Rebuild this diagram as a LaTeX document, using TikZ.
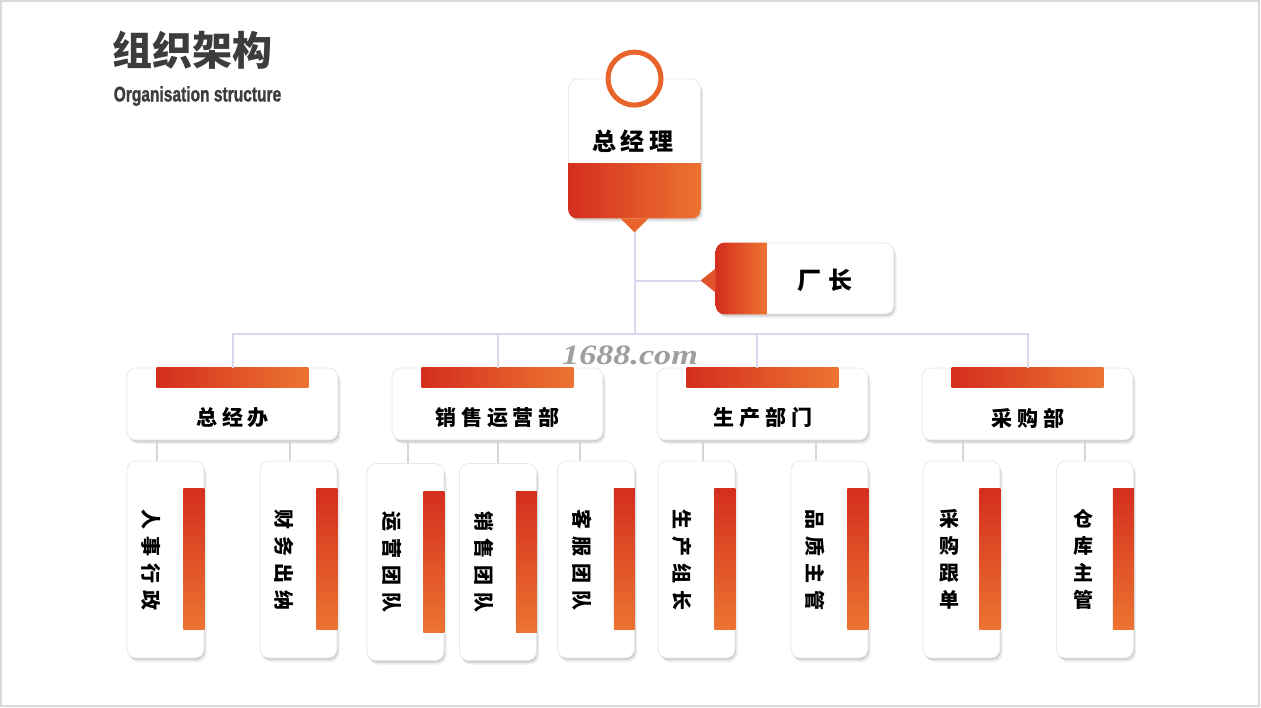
\documentclass[tikz,border=0pt]{standalone}
\usepackage{fontspec}
\setmainfont{Liberation Sans}
\newfontfamily\cjk{Noto Sans CJK SC}
\newfontfamily\subfont{Liberation Sans}[BoldFeatures={FakeBold=1.5}]
\newfontfamily\wmfont{Liberation Serif}
\usetikzlibrary{shadows}
\definecolor{cred}{HTML}{D42E1E}
\definecolor{corange}{HTML}{EC7431}
\definecolor{cring}{HTML}{E8642A}
\definecolor{ctitle}{HTML}{3C3C3C}
\definecolor{clink}{HTML}{DCD7EE}
\definecolor{csub}{HTML}{D6D6D6}
\newcommand\gap{\hspace{7pt}}
\newcommand\dgap{\hspace{5pt}}
\begin{document}
\begin{tikzpicture}[x=1pt,y=-1pt,
    card/.style={fill=white,draw=black!9,line width=0.8pt,rounded corners=9pt,inner sep=0pt,
      drop shadow={shadow xshift=2.5pt,shadow yshift=-4pt,opacity=.07,fill=black},
      drop shadow={shadow xshift=1pt,shadow yshift=-2pt,opacity=.13,fill=black}},
    link/.style={draw=clink,line width=2pt},
    sublink/.style={draw=csub,line width=1.5pt},
    label/.style={font=\cjk\bfseries\fontsize{#1}{#1}\selectfont,text=black,inner sep=0pt},
    label/.default=21]
  \useasboundingbox (0,0) rectangle (1261,707);
  \draw[black!15,line width=1.5pt] (1,1) rectangle (1259,706);

  \node[font=\cjk\bfseries\fontsize{40}{40}\selectfont,text=ctitle] (title) at (192,50) {组织架构};
  \node[font=\subfont\bfseries\fontsize{21}{21}\selectfont,text=ctitle] (subtitle) at (197.5,96)
    {\scalebox{0.74}[1]{Organisation structure}};

  \coordinate (bus) at (634.5,334);

  \node[card,minimum width=132pt,minimum height=139pt] (gm) at (634.5,148.5) {};
  \begin{scope}
    \clip[rounded corners=9pt] (gm.north west) rectangle (gm.south east);
    \shade[left color=cred,right color=corange] (gm.south west) rectangle ([yshift=55pt]gm.south east);
  \end{scope}
  \fill[cring] ([xshift=-14pt]gm.south) -- ([xshift=14pt]gm.south) -- ([yshift=-14pt]gm.south) -- cycle;
  \node[circle,draw=cring,line width=5pt,fill=white,minimum size=53pt,inner sep=0pt,
    drop shadow={shadow xshift=1pt,shadow yshift=-2pt,opacity=.12,fill=black}] (ring) at (gm.north) {};
  \node[label=24] (gm-t) at (633,141) {总\dgap 经\dgap 理};
  \draw[link] ([yshift=-14pt]gm.south) -- (bus);

  \node[card,minimum width=178pt,minimum height=71pt] (cz) at (805,278.5) {};
  \begin{scope}
    \clip[rounded corners=9pt] (cz.north west) rectangle (cz.south east);
    \shade[left color=cred,right color=corange] (cz.north west) rectangle ([xshift=51pt]cz.south west);
  \end{scope}
  \coordinate (cztip) at ([xshift=-15pt,yshift=-2pt]cz.west);
  \fill[cred!45!corange] ([yshift=10pt]cz.west) -- (cztip) -- ([yshift=-14pt]cz.west) -- cycle;
  \node[label=24] (cz-t) at (825,280) {厂\gap 长};
  \draw[link] (bus |- cztip) -- (cztip);

  \foreach \nm/\cx/\dx/\txt in {zjb/232.5/232.5/总\dgap 经\dgap 办,
      xsyy/497.5/497.5/销\dgap 售\dgap 运\dgap 营\dgap 部,
      scbm/762.5/757/生\dgap 产\dgap 部\dgap 门,
      cgb/1027.5/1027.5/采\dgap 购\dgap 部}
  {
    \node[card,minimum width=211pt,minimum height=72pt] (\nm) at (\cx,404) {};
    \shade[left color=cred,right color=corange] ([xshift=30pt]\nm.north west) rectangle ([xshift=-30pt,yshift=-20pt]\nm.north east);
    \node[label] (\nm-t) at (\cx,418) {\txt};
    \coordinate (\nm-d) at (\dx,404);
    \draw[link] (\nm.north -| \nm-d) |- (bus);
  }

  \foreach \nm/\cx/\cy/\dx/\up/\txt in {rsxz/165.5/559.5/157/zjb/人\gap 事\gap 行\gap 政,
      cwcn/298.5/559.5/290/zjb/财\gap 务\gap 出\gap 纳,
      yytd/405.5/562/408/xsyy/运\gap 营\gap 团\gap 队,
      xstd/498/562/498/xsyy/销\gap 售\gap 团\gap 队,
      kftd/596/559.5/580/xsyy/客\gap 服\gap 团\gap 队,
      sczz/696.5/559.5/703/scbm/生\gap 产\gap 组\gap 长,
      pzzg/829.5/559.5/816/scbm/品\gap 质\gap 主\gap 管}
  {
    \node[card,minimum width=77pt,minimum height=197pt] (\nm) at (\cx,\cy) {};
    \shade[top color=cred,bottom color=corange] ([xshift=-21pt,yshift=-28pt]\nm.north east) rectangle ([yshift=-169pt]\nm.north east);
    \node[label=20,rotate=-90] (\nm-t) at ([xshift=-14pt]\nm.center) {\txt};
    \coordinate (\nm-d) at (\dx,\cy);
    \draw[sublink] (\up.south -| \nm-d) -- (\nm.north -| \nm-d);
  }

  \foreach \nm/\cx/\dx/\txt in {cggd/961.5/963/采\\购\\跟\\单,
      ckzg/1095/1085/仓\\库\\主\\管}
  {
    \node[card,minimum width=77pt,minimum height=197pt] (\nm) at (\cx,559.5) {};
    \shade[top color=cred,bottom color=corange] ([xshift=-21pt,yshift=-28pt]\nm.north east) rectangle ([yshift=-169pt]\nm.north east);
    \node[label=20,align=center,font=\cjk\bfseries\fontsize{20}{27}\selectfont] (\nm-t) at ([xshift=-12pt]\nm.center) {\txt};
    \coordinate (\nm-d) at (\dx,559.5);
    \draw[sublink] (cgb.south -| \nm-d) -- (\nm.north -| \nm-d);
  }

  \node[font=\wmfont\bfseries\itshape\fontsize{28}{28}\selectfont,text=black!38] (wm) at (630,355)
    {\scalebox{1.22}[1]{1688.com}};
\end{tikzpicture}
\end{document}
